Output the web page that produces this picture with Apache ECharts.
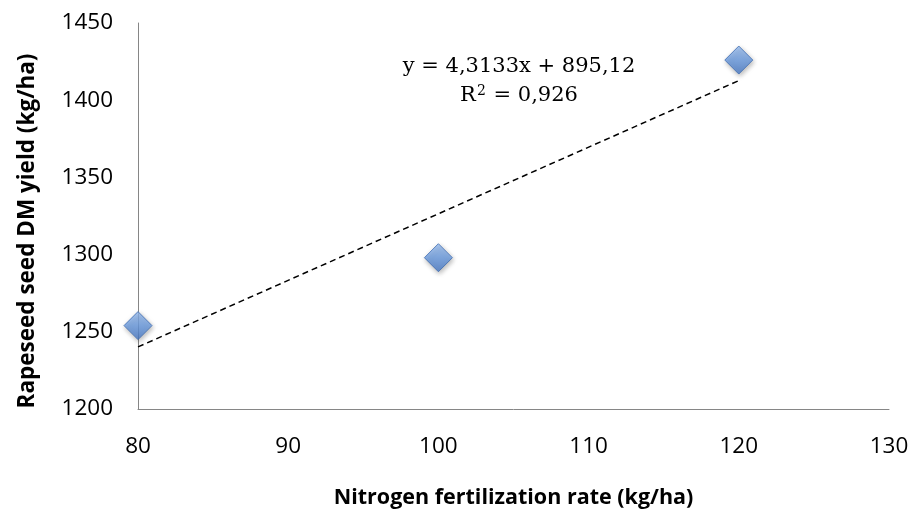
<!DOCTYPE html>
<html>
<head>
<meta charset="utf-8">
<script src="https://cdn.jsdelivr.net/npm/echarts@6/dist/echarts.min.js"></script>
<style>html,body{margin:0;padding:0;background:#fff}#c{width:924px;height:514px}</style>
</head>
<body>
<div id="c"></div>
<script>
const nitrogenRates = [80, 100, 120];
const seedYield = [1254, 1298, 1426];
const trendX = [80, 120];
const trendY = [1240.2, 1412.7];
const xTicks = [80, 90, 100, 110, 120, 130];
const yTicks = [1200, 1250, 1300, 1350, 1400, 1450];
const equationText = 'y = 4,3133x + 895,12';
const r2Value = '0,926';

const chart = echarts.init(document.getElementById('c'));
chart.setOption({
  animation: false,
  grid: {left: 138, right: 35, top: 23, bottom: 102},
  xAxis: {
    type: 'value', min: xTicks[0], max: xTicks[xTicks.length-1], interval: 10,
    axisLine: {show: true, lineStyle: {color: '#868686', width: 1}},
    axisTick: {show: false},
    splitLine: {show: false},
    axisLabel: {color: '#000', fontSize: 22.5, fontFamily: 'Open Sans', margin: 26, formatter: v => String(v)},
    name: 'Nitrogen fertilization rate (kg/ha)', nameLocation: 'middle', nameGap: 78,
    nameTextStyle: {color: '#000', fontSize: 21.5, fontWeight: 'bold', fontFamily: 'Open Sans'}
  },
  yAxis: {
    type: 'value', min: yTicks[0], max: yTicks[yTicks.length-1], interval: 50,
    axisLine: {show: true, lineStyle: {color: '#868686', width: 1}},
    axisTick: {show: false},
    splitLine: {show: false},
    axisLabel: {color: '#000', fontSize: 22.5, fontFamily: 'Open Sans', margin: 25, formatter: v => String(v)},
    name: 'Rapeseed seed DM yield (kg/ha)', nameLocation: 'middle', nameGap: 99,
    nameTextStyle: {color: '#000', fontSize: 22.5, fontWeight: 'bold', fontFamily: 'Open Sans', padding: [0, 30, 0, 0]}
  },
  series: [
    {
      type: 'line',
      data: trendX.map((x, i) => [x, trendY[i]]),
      showSymbol: false, symbol: 'none',
      lineStyle: {color: '#000', width: 1.5, type: [6, 4]},
      z: 2
    },
    {
      type: 'scatter',
      data: nitrogenRates.map((x, i) => [x, seedYield[i]]),
      symbol: 'diamond', symbolSize: 28,
      itemStyle: {
        color: new echarts.graphic.LinearGradient(0, 0, 0, 1, [
          {offset: 0, color: '#9dc1f2'},
          {offset: 0.5, color: '#6c9de2'},
          {offset: 1, color: '#4879c6'}
        ]),
        borderColor: '#3e6db3', borderWidth: 1,
        shadowColor: 'rgba(0,0,0,0.35)', shadowBlur: 5, shadowOffsetX: 1, shadowOffsetY: 2
      },
      z: 3
    }
  ],
  graphic: [
    {type: 'text', x: 519, y: 67, style: {text: equationText, fontFamily: 'DejaVu Serif', fontSize: 21, fill: '#000', align: 'center', verticalAlign: 'middle'}},
    {type: 'text', x: 519, y: 96, style: {
      text: '{n|R}{s|2}{n| = ' + r2Value + '}',
      align: 'center', verticalAlign: 'middle',
      rich: {
        n: {fontFamily: 'DejaVu Serif', fontSize: 21, color: '#000'},
        s: {fontFamily: 'DejaVu Serif', fontSize: 14, color: '#000', padding: [0, 1, 10, 1]}
      }
    }}
  ]
});
</script>
</body>
</html>
